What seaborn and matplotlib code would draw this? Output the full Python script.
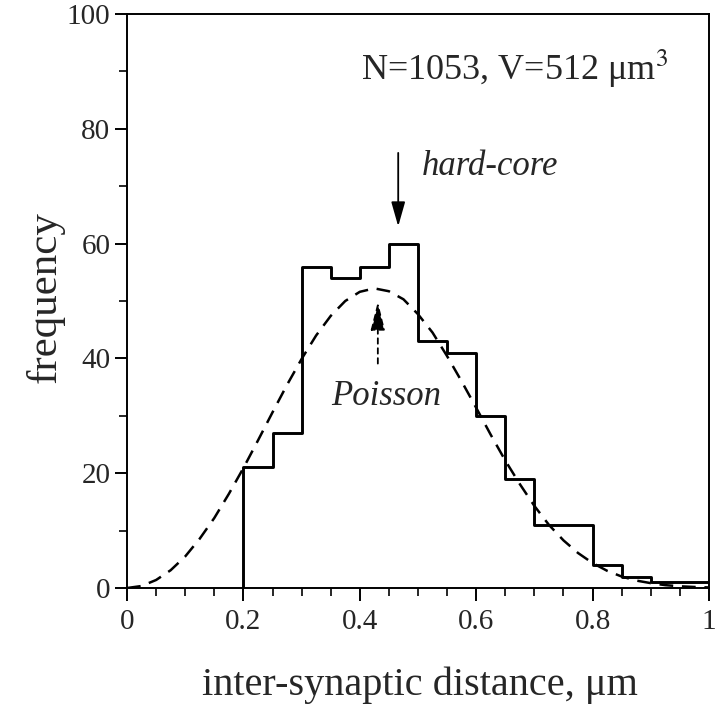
import numpy as np
import matplotlib
matplotlib.use("Agg")
import matplotlib.pyplot as plt
import seaborn as sns
from matplotlib.ticker import MultipleLocator

# histogram of observed inter-synaptic distances (bin edges in um, counts)
bin_edges = [0.20, 0.25, 0.30, 0.35, 0.40, 0.45, 0.50, 0.55, 0.60,
             0.65, 0.70, 0.75, 0.80, 0.85, 0.90, 0.95, 1.00]
counts = [21, 27, 56, 54, 56, 60, 43, 41, 30, 19, 11, 11, 4, 2, 1, 1]

# expected distribution for a Poisson process
poisson_x = [0.0, 0.025, 0.05, 0.075, 0.1, 0.125, 0.15, 0.175, 0.2, 0.225,
             0.25, 0.275, 0.3, 0.325, 0.35, 0.375, 0.4, 0.425, 0.45, 0.475,
             0.5, 0.525, 0.55, 0.575, 0.6, 0.625, 0.65, 0.675, 0.7, 0.725,
             0.75, 0.775, 0.8, 0.825, 0.85, 0.875, 0.9, 0.925, 0.95, 0.975, 1.0]
poisson_y = [0.0, 0.35, 1.4, 3.1, 5.5, 8.6, 12.2, 16.4, 20.9, 25.7,
             30.6, 35.4, 39.9, 44.0, 47.4, 50.0, 51.6, 52.2, 51.7, 50.3,
             47.7, 44.5, 40.4, 36.0, 31.4, 26.7, 22.2, 18.1, 14.3, 11.0,
             8.3, 6.1, 4.35, 3.0, 2.0, 1.3, 0.85, 0.5, 0.3, 0.18, 0.1]

x_ticks = [0, 0.2, 0.4, 0.6, 0.8, 1.0]
x_tick_labels = ["0", "0.2", "0.4", "0.6", "0.8", "1"]
y_ticks = [0, 20, 40, 60, 80, 100]

sns.set_style("ticks")
plt.rcParams["font.family"] = ["Liberation Serif", "DejaVu Serif"]
plt.rcParams["mathtext.fontset"] = "stix"

fig = plt.figure(figsize=(7.2, 7.1), dpi=100)
ax = fig.add_axes([0.1764, 0.1718, 0.8083, 0.8085])

# observed histogram as a step outline
sns.histplot(x=bin_edges[:-1], weights=counts, bins=bin_edges, element="step",
             fill=False, color="black", linewidth=2.1, ax=ax)
ax.vlines(bin_edges[0], 0, counts[0], color="black", linewidth=2.1)

# Poisson expectation
sns.lineplot(x=poisson_x, y=poisson_y, color="black", linewidth=1.8,
             linestyle=(0, (5.5, 3.5)), ax=ax)

ax.set_xlim(0, 1)
ax.set_ylim(0, 100)
ax.set_xticks(x_ticks)
ax.set_xticklabels(x_tick_labels)
ax.set_yticks(y_ticks)
ax.xaxis.set_minor_locator(MultipleLocator(0.05))
ax.yaxis.set_minor_locator(MultipleLocator(10))
ax.tick_params(which="major", length=9, width=1.4, labelsize=21, pad=6,
               color="black")
ax.tick_params(which="minor", length=6, width=1.4)
ax.tick_params(axis="y", which="major", pad=3)
for s in ax.spines.values():
    s.set_linewidth(1.4)
    s.set_color("black")

ax.set_xlabel("inter-synaptic distance, μm", fontsize=29)
ax.set_ylabel("frequency", fontsize=31)
ax.xaxis.label.set_va("baseline")
ax.xaxis.set_label_coords(0.503, -0.186)
ax.yaxis.set_label_coords(-0.107, 0.507)

ax.text(0.402, 88.5, "N=1053, V=512 μm$^{3}$", fontsize=26, va="baseline")

ax.text(0.506, 72, "hard-core", fontsize=25, style="italic", va="baseline")
ax.annotate("", xy=(0.466, 63), xytext=(0.466, 75.8),
            arrowprops=dict(arrowstyle="-|>,head_length=0.6,head_width=0.17",
                            mutation_scale=25, color="black", lw=1.3,
                            shrinkA=0, shrinkB=0))

ax.text(0.446, 31.9, "Poisson", fontsize=25, style="italic", va="baseline",
        ha="center")
ax.annotate("", xy=(0.431, 49.9), xytext=(0.431, 39.1),
            arrowprops=dict(arrowstyle="-|>,head_length=0.8,head_width=0.2",
                            mutation_scale=22, color="black", lw=1.3,
                            linestyle=(0, (3, 2.5)), shrinkA=0, shrinkB=0))

fig.savefig("out.png", dpi=100)
